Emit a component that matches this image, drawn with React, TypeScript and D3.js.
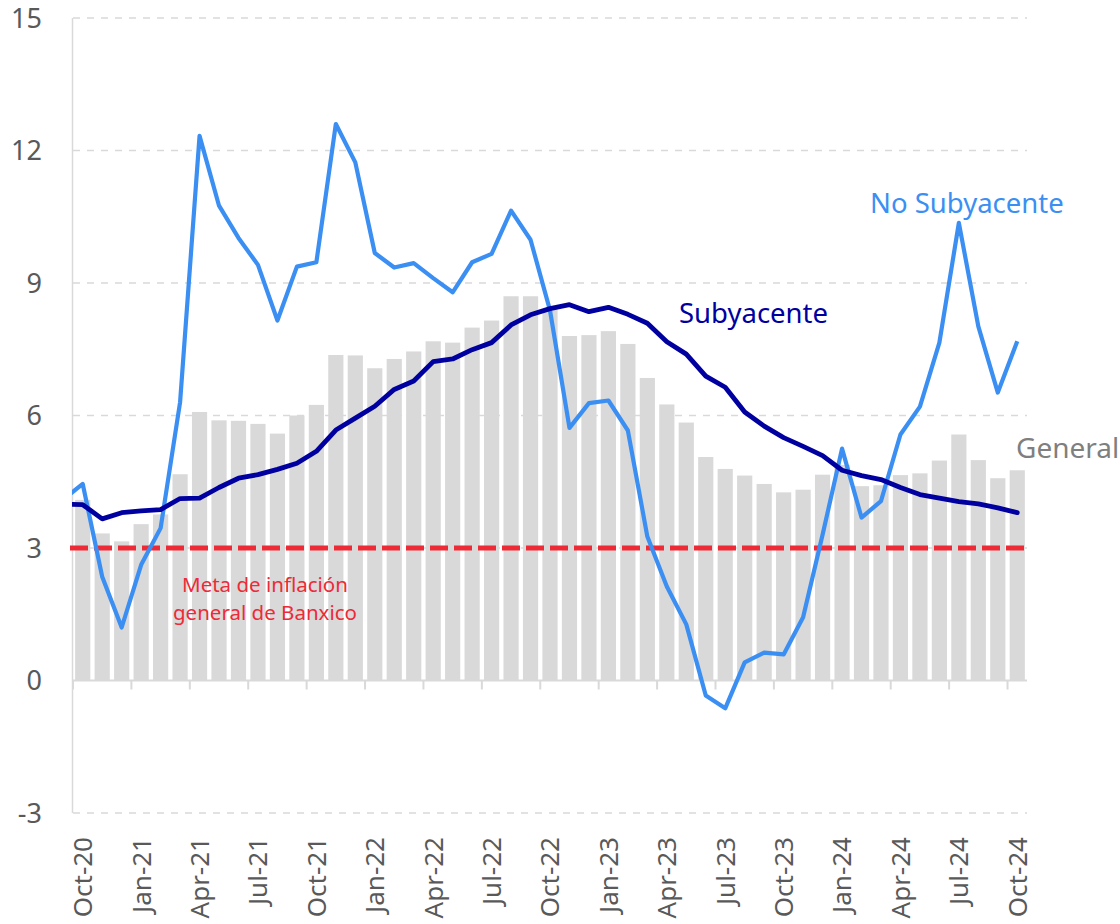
import { useEffect, useRef } from "react";
import * as d3 from "d3";

// months Oct-20 .. Oct-24
const months = [
  "Oct-20", "Nov-20", "Dec-20",
  "Jan-21", "Feb-21", "Mar-21", "Apr-21", "May-21", "Jun-21", "Jul-21", "Aug-21", "Sep-21", "Oct-21", "Nov-21", "Dec-21",
  "Jan-22", "Feb-22", "Mar-22", "Apr-22", "May-22", "Jun-22", "Jul-22", "Aug-22", "Sep-22", "Oct-22", "Nov-22", "Dec-22",
  "Jan-23", "Feb-23", "Mar-23", "Apr-23", "May-23", "Jun-23", "Jul-23", "Aug-23", "Sep-23", "Oct-23", "Nov-23", "Dec-23",
  "Jan-24", "Feb-24", "Mar-24", "Apr-24", "May-24", "Jun-24", "Jul-24", "Aug-24", "Sep-24", "Oct-24",
];

// General (bars)
const general = [
  4.09, 3.33, 3.15,
  3.54, 3.76, 4.67, 6.08, 5.89, 5.88, 5.81, 5.59, 6.0, 6.24, 7.37, 7.36,
  7.07, 7.28, 7.45, 7.68, 7.65, 7.99, 8.15, 8.7, 8.7, 8.41, 7.8, 7.82,
  7.91, 7.62, 6.85, 6.25, 5.84, 5.06, 4.79, 4.64, 4.45, 4.26, 4.32, 4.66,
  4.88, 4.4, 4.42, 4.65, 4.69, 4.98, 5.57, 4.99, 4.58, 4.76,
];

// Subyacente, first value is Sep-20 (drawn clipped at the axis)
const subyacente = [
  3.99,
  3.98, 3.66, 3.8,
  3.84, 3.87, 4.12, 4.13, 4.37, 4.58, 4.66, 4.78, 4.92, 5.19, 5.67, 5.94,
  6.21, 6.59, 6.78, 7.22, 7.28, 7.49, 7.65, 8.05, 8.28, 8.42, 8.51, 8.35,
  8.45, 8.29, 8.09, 7.67, 7.39, 6.89, 6.64, 6.08, 5.76, 5.5, 5.3, 5.09,
  4.76, 4.64, 4.55, 4.37, 4.21, 4.13, 4.05, 4.0, 3.91, 3.8,
];

// No Subyacente, first value is Sep-20 (drawn clipped at the axis)
const noSubyacente = [
  4.1,
  4.45, 2.35, 1.2,
  2.62, 3.45, 6.3, 12.33, 10.75, 10.02, 9.41, 8.15, 9.37, 9.47, 12.6, 11.73,
  9.68, 9.35, 9.45, 9.11, 8.79, 9.47, 9.66, 10.64, 9.98, 8.38, 5.72, 6.28,
  6.34, 5.66, 3.26, 2.13, 1.27, -0.34, -0.63, 0.41, 0.63, 0.59, 1.43, 3.3,
  5.25, 3.69, 4.06, 5.57, 6.2, 7.65, 10.36, 8.02, 6.52, 7.68,
];

const yTicks = [-3, 0, 3, 6, 9, 12, 15];
const meta = 3;

const font = "'Noto Sans', sans-serif";

export default function App() {
  const svgRef = useRef<SVGSVGElement>(null);

  useEffect(() => {
    const width = 1120, height = 924;
    const left = 73, right = 1027, top = 18, bottom = 813;

    const svg = d3.select(svgRef.current);
    svg.selectAll("*").remove();
    svg.attr("width", width).attr("height", height);

    const x = d3.scaleBand<string>()
      .domain(months)
      .range([left, right])
      .paddingInner(0.22)
      .paddingOuter(0.11);

    // index scale for lines / ticks (category centres at integers)
    const xi = d3.scaleLinear()
      .domain([-0.5, months.length - 0.5])
      .range([left, right]);

    const y = d3.scaleLinear().domain([-3, 15]).range([bottom, top]);

    svg.append("defs").append("clipPath")
      .attr("id", "plot")
      .append("rect")
      .attr("x", left - 1).attr("y", 0)
      .attr("width", right - left + 10).attr("height", height);

    // gridlines
    svg.append("g")
      .selectAll("line")
      .data(yTicks.filter(d => d !== 0))
      .join("line")
      .attr("x1", left).attr("x2", right)
      .attr("y1", d => y(d)).attr("y2", d => y(d))
      .attr("stroke", "#d9d9d9")
      .attr("stroke-width", 1.5)
      .attr("stroke-dasharray", "7 7");

    // y axis line
    svg.append("line")
      .attr("x1", left - 0.5).attr("x2", left - 0.5)
      .attr("y1", y(15)).attr("y2", y(-3))
      .attr("stroke", "#d9d9d9").attr("stroke-width", 1.5);

    // y labels
    svg.append("g")
      .selectAll("text")
      .data(yTicks)
      .join("text")
      .attr("x", 42)
      .attr("y", d => y(d))
      .attr("dy", "0.36em")
      .attr("text-anchor", "end")
      .attr("font-family", font)
      .attr("font-size", 27)
      .attr("fill", "#595959")
      .text(d => d);

    // bars
    svg.append("g")
      .selectAll("rect")
      .data(general)
      .join("rect")
      .attr("x", (d, i) => x(months[i])!)
      .attr("width", x.bandwidth())
      .attr("y", d => y(Math.max(0, d)))
      .attr("height", d => Math.abs(y(d) - y(0)))
      .attr("fill", "#d9d9d9");

    // zero axis + tick marks
    svg.append("line")
      .attr("x1", left).attr("x2", right)
      .attr("y1", y(0)).attr("y2", y(0))
      .attr("stroke", "#d9d9d9").attr("stroke-width", 2);

    const tickIdx = d3.range(0, months.length, 3);
    svg.append("g")
      .selectAll("line")
      .data(tickIdx)
      .join("line")
      .attr("x1", d => xi(d - 0.5)).attr("x2", d => xi(d - 0.5))
      .attr("y1", y(0)).attr("y2", y(0) + 9)
      .attr("stroke", "#d9d9d9").attr("stroke-width", 2);

    // meta line
    svg.append("line")
      .attr("x1", left - 3).attr("x2", right)
      .attr("y1", y(meta)).attr("y2", y(meta))
      .attr("stroke", "#ee2a36")
      .attr("stroke-width", 5)
      .attr("stroke-dasharray", "18 6");

    const line = d3.line<number>()
      .x((d, i) => xi(i - 1))
      .y(d => y(d));

    svg.append("path")
      .datum(noSubyacente)
      .attr("clip-path", "url(#plot)")
      .attr("d", line)
      .attr("fill", "none")
      .attr("stroke", "#3b8ff2")
      .attr("stroke-width", 4.2)
      .attr("stroke-linejoin", "round");

    svg.append("path")
      .datum(subyacente)
      .attr("clip-path", "url(#plot)")
      .attr("d", line)
      .attr("fill", "none")
      .attr("stroke", "#0000a0")
      .attr("stroke-width", 4.8)
      .attr("stroke-linejoin", "round")
      .attr("stroke-linecap", "round");

    // x labels
    svg.append("g")
      .selectAll("text")
      .data(tickIdx)
      .join("text")
      .attr("transform", d => `translate(${xi(d)},837) rotate(-90)`)
      .attr("text-anchor", "end")
      .attr("dy", "0.36em")
      .attr("font-family", font)
      .attr("font-size", 26)
      .attr("fill", "#595959")
      .text(d => months[d]);

    // series labels
    const label = (tx: number, ty: number, txt: string, color: string, size = 27.5) =>
      svg.append("text")
        .attr("x", tx).attr("y", ty)
        .attr("font-family", font)
        .attr("font-size", size)
        .attr("fill", color)
        .text(txt);

    label(870, 213, "No Subyacente", "#3b8ff2");
    label(679, 323, "Subyacente", "#0000a0");
    label(1016, 458, "General", "#7f7f7f", 28);

    svg.append("text")
      .attr("x", 265).attr("y", 592)
      .attr("text-anchor", "middle")
      .attr("font-family", font)
      .attr("font-size", 20.5)
      .attr("fill", "#ee2a36")
      .text("Meta de inflación");
    svg.append("text")
      .attr("x", 265).attr("y", 620)
      .attr("text-anchor", "middle")
      .attr("font-family", font)
      .attr("font-size", 20.5)
      .attr("fill", "#ee2a36")
      .text("general de Banxico");
  }, []);

  return (
    <svg ref={svgRef} style={{ position: "absolute", left: 0, top: 0, background: "#fff" }}></svg>
  );
}
